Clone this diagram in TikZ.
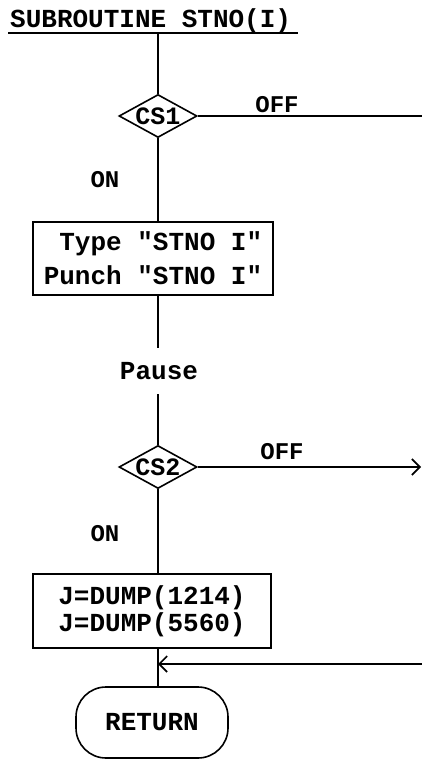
\documentclass[tikz,border=0pt]{standalone}
\usepackage{fontspec}
\setmonofont{Liberation Mono}
\usetikzlibrary{arrows.meta,shapes.geometric}
\tikzset{
  ln/.style={line width=1.6pt},
  tip/.style={-{Straight Barb[length=8pt,width=16pt,line width=1.6pt]}},
  txt/.style={font=\fontsize{26}{34}\selectfont\ttfamily\bfseries, inner sep=0pt},
  lbl/.style={font=\fontsize{24}{28}\selectfont\ttfamily\bfseries, inner sep=0pt},
  dec/.style={diamond, draw, line width=1.6pt, inner sep=0pt, aspect=1.8,
              minimum width=78pt, minimum height=43pt,
              font=\fontsize{25}{28}\selectfont\ttfamily\bfseries},
  procbox/.style={draw, line width=1.6pt, inner sep=0pt, minimum width=240pt},
  term/.style={draw, line width=1.6pt, rounded corners=30pt, inner sep=0pt,
               minimum width=152pt, minimum height=71pt,
               font=\fontsize{26}{34}\selectfont\ttfamily\bfseries},
}
\begin{document}
\begin{tikzpicture}[x=1pt,y=-1pt]
\useasboundingbox (0,0) rectangle (422,759);
\coordinate (spine) at (158,0);
% title
\node[txt, anchor=base west] (title) at (10,28) {SUBROUTINE STNO(I)};
\coordinate (ulA) at (8,33);
\coordinate (ulB) at (298,33);
\draw[ln] (ulA) -- (ulB);
% CS1
\node[dec] (cs1) at (158,116) {CS1};
\node[lbl] (off1) at (277,105) {OFF};
\coordinate (off1end) at (424,116);
\node[lbl] (on1) at (105,180) {ON};
% box 1
\node[procbox, txt, minimum height=73pt, align=right] (box1) at (153,258.5)
  {Type "STNO I"\\Punch "STNO I"};
% pause
\node[txt, minimum height=46pt] (pause) at (159,371) {Pause};
% CS2
\node[dec] (cs2) at (158,467) {CS2};
\node[lbl] (off2) at (282,452) {OFF};
\coordinate (off2end) at (421,467);
\node[lbl] (on2) at (105,534) {ON};
% box 2
\node[procbox, minimum width=238pt, minimum height=74pt, align=center,
      font=\fontsize{26}{27}\selectfont\ttfamily\bfseries] (box2) at (152,611)
  {J=DUMP(1214)\\J=DUMP(5560)};
% return
\node[term] (ret) at (152,722.5) {RETURN};
\coordinate (retin) at (424,664);
% connectors
\draw[ln] (ulA -| spine) -- (cs1.north);
\draw[ln] (cs1.east) -- (off1end);
\draw[ln] (cs1.south) -- (box1.north -| spine);
\draw[ln] (box1.south -| spine) -- (pause.north -| spine);
\draw[ln] (pause.south -| spine) -- (cs2.north);
\draw[ln, tip] (cs2.east) -- (off2end);
\draw[ln] (cs2.south) -- (box2.north -| spine);
\draw[ln] (box2.south -| spine) -- (ret.north -| spine);
\draw[ln, tip] (retin) -- (retin -| spine);
\end{tikzpicture}
\end{document}
